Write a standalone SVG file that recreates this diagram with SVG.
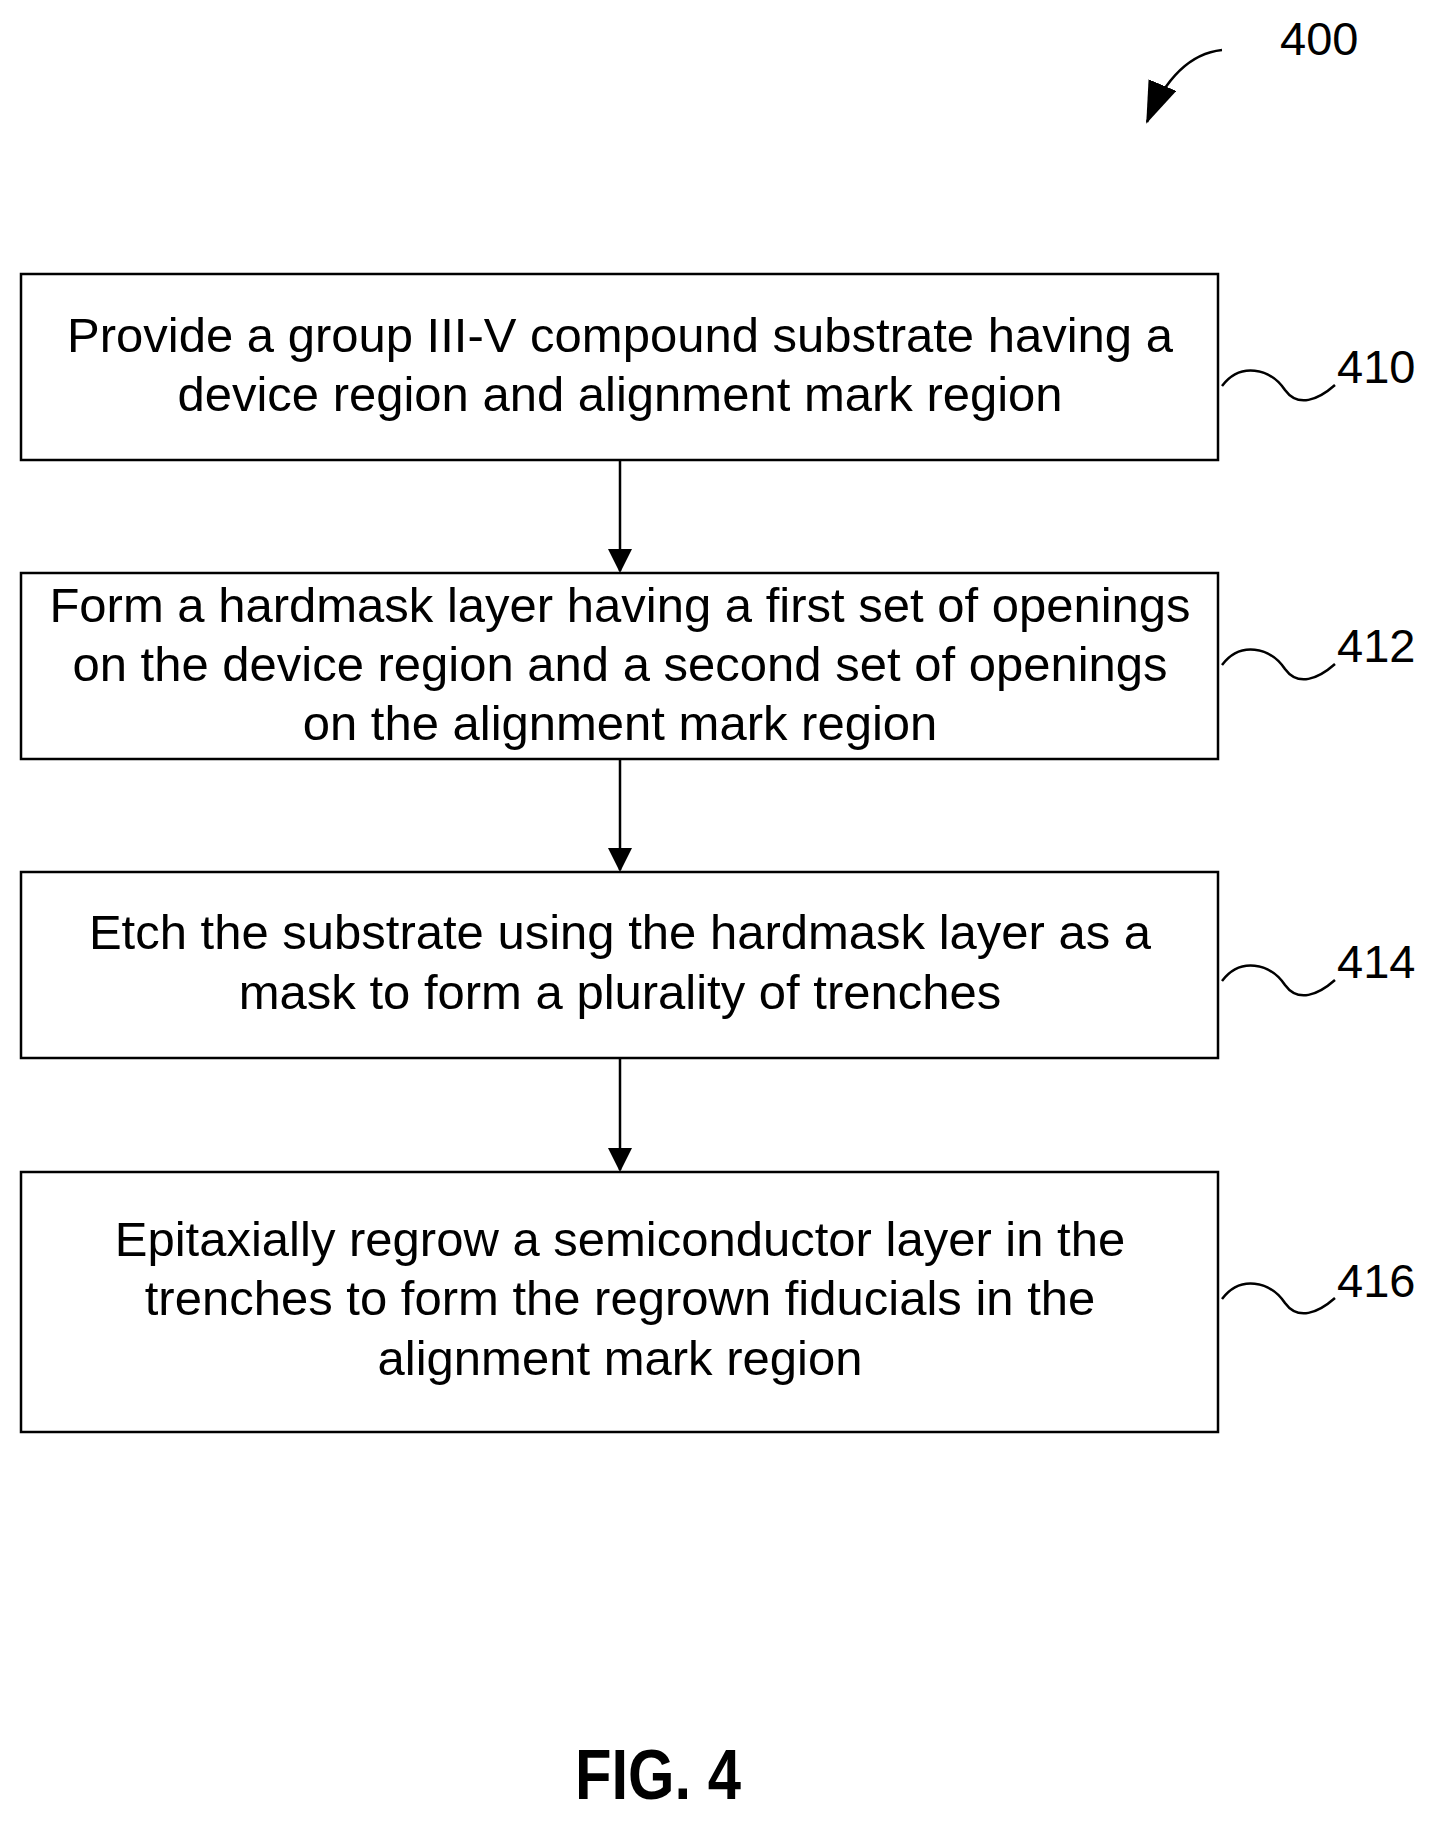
<svg xmlns="http://www.w3.org/2000/svg" width="1441" height="1828" viewBox="0 0 1441 1828">
<style>
.b{fill:#fff;stroke:#000;stroke-width:2.5}
.t{font-family:"Liberation Sans",Arial,sans-serif;font-size:49px;text-anchor:middle;fill:#000}
.l{font-family:"Liberation Sans",Arial,sans-serif;font-size:47px;fill:#000}
.c{fill:none;stroke:#000;stroke-width:2.5}
</style>
<defs>
<marker id="h" markerWidth="24" markerHeight="24" refX="22" refY="12" orient="auto" markerUnits="userSpaceOnUse" viewBox="0 0 24 24"><path d="M0,0 L24,12 L0,24z"/></marker>
<marker id="g" markerWidth="42" markerHeight="30" refX="40" refY="15" orient="auto" markerUnits="userSpaceOnUse" viewBox="0 0 42 30"><path d="M0,0 L42,15 L0,30z"/></marker></defs>
<rect width="1441" height="1828" fill="#fff"/>
<g id="n400"><text class="l" x="1280" y="55">400</text><path class="c" d="M1222,50 Q1175,55 1147,122" marker-end="url(#g)"/></g>
<g id="n410"><rect class="b" x="21" y="274" width="1197" height="186"/>
<text class="t" x="620" y="352">Provide a group III-V compound substrate having a</text>
<text class="t" x="620" y="411">device region and alignment mark region</text>
<text class="l" x="1337" y="383">410</text></g>
<g id="n412"><rect class="b" x="21" y="573" width="1197" height="186"/>
<text class="t" x="620" y="622">Form a hardmask layer having a first set of openings</text>
<text class="t" x="620" y="681">on the device region and a second set of openings</text>
<text class="t" x="620" y="740">on the alignment mark region</text>
<text class="l" x="1337" y="662">412</text></g>
<g id="n414"><rect class="b" x="21" y="872" width="1197" height="186"/>
<text class="t" x="620" y="949">Etch the substrate using the hardmask layer as a</text>
<text class="t" x="620" y="1009">mask to form a plurality of trenches</text>
<text class="l" x="1337" y="978">414</text></g>
<g id="n416"><rect class="b" x="21" y="1172" width="1197" height="260"/>
<text class="t" x="620" y="1256">Epitaxially regrow a semiconductor layer in the</text>
<text class="t" x="620" y="1315">trenches to form the regrown fiducials in the</text>
<text class="t" x="620" y="1375">alignment mark region</text>
<text class="l" x="1337" y="1297">416</text></g>
<g id="connectors">
<path class="c" d="M1222,386 C1240,362 1270,368 1285,390 C1298,408 1318,400 1335,385"/>
<path class="c" d="M1222,665 C1240,641 1270,647 1285,669 C1298,687 1318,679 1335,664"/>
<path class="c" d="M1222,981 C1240,957 1270,963 1285,985 C1298,1003 1318,995 1335,980"/>
<path class="c" d="M1222,1299 C1240,1275 1270,1281 1285,1303 C1298,1321 1318,1313 1335,1298"/>
<line class="c" x1="620" y1="460" x2="620" y2="571" marker-end="url(#h)"/>
<line class="c" x1="620" y1="759" x2="620" y2="870" marker-end="url(#h)"/>
<line class="c" x1="620" y1="1058" x2="620" y2="1170" marker-end="url(#h)"/>
</g>
<text x="658" y="1799" font-family="'Liberation Sans',Arial,sans-serif" font-weight="bold" font-size="70" text-anchor="middle" textLength="166" lengthAdjust="spacingAndGlyphs">FIG. 4</text>
</svg>
